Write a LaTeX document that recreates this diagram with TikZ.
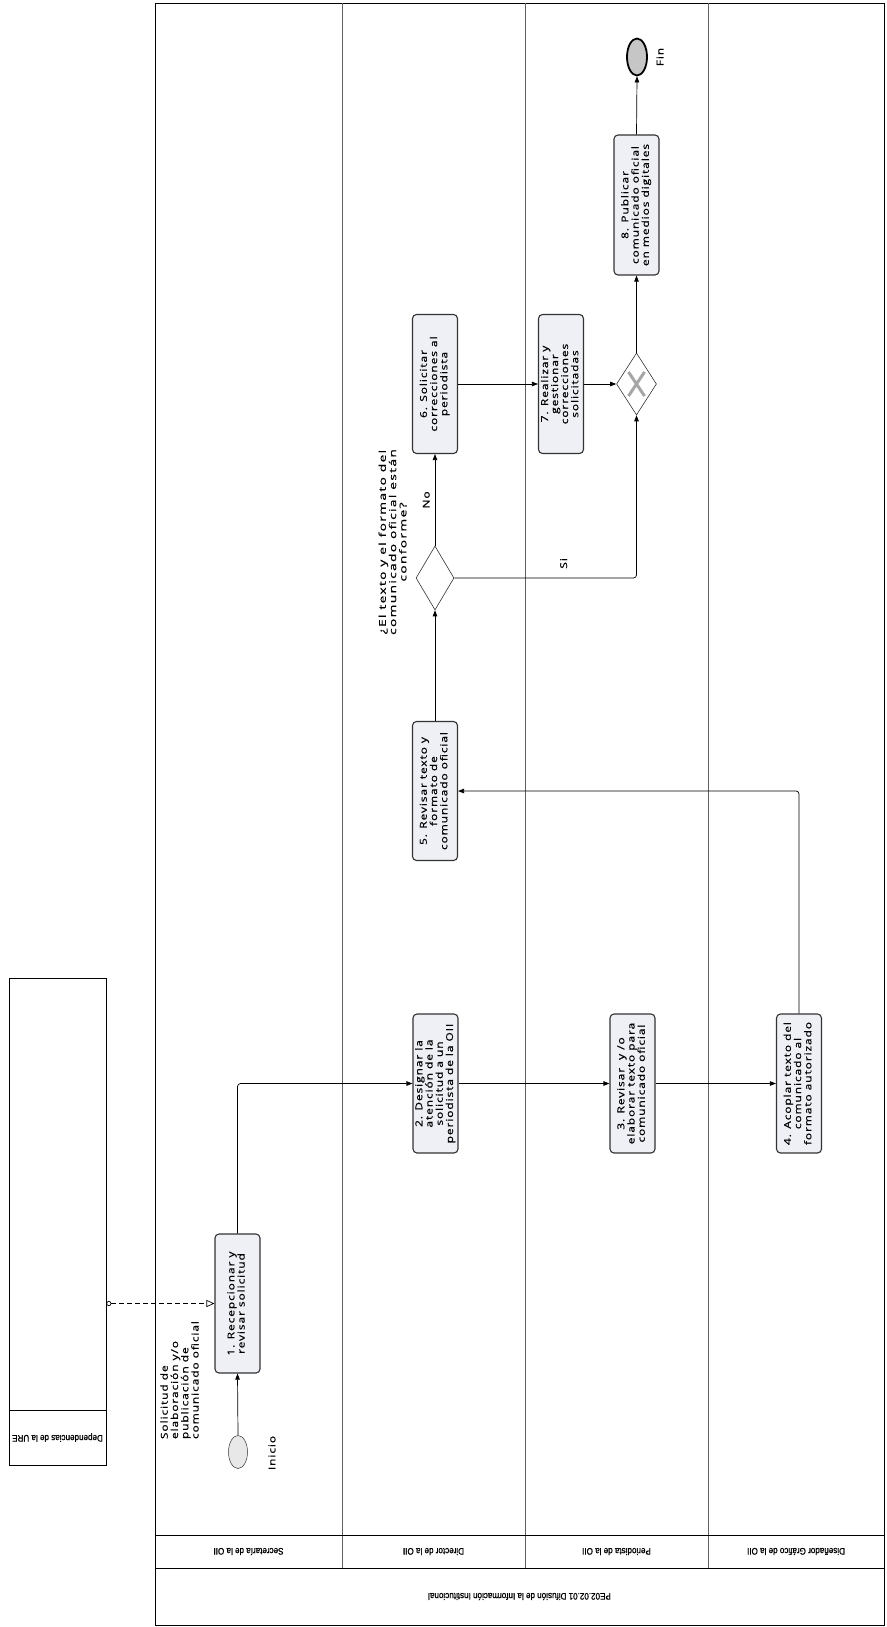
\documentclass[tikz,border=0pt]{standalone}
\usepackage{fontspec}
\setmainfont{Open Sans}
\newfontfamily\hdrfont[FakeStretch=0.85,FakeBold=1]{Liberation Sans}
\newfontfamily\taskfont[LetterSpace=10,FakeBold=0.6,FakeStretch=1.25]{Open Sans}
\newfontfamily\askfont[LetterSpace=14,FakeBold=0.6,FakeStretch=1.45]{Open Sans}
\usetikzlibrary{arrows.meta,positioning,shapes.geometric}
\definecolor{taskfill}{HTML}{EEF0F5}
\definecolor{laneline}{HTML}{606060}
\definecolor{taskline}{HTML}{333333}
\newcommand{\vtext}[1]{\rotatebox{90}{\begin{tabular}{@{}c@{}}#1\end{tabular}}}
\newcommand{\vltext}[1]{\rotatebox{90}{\begin{tabular}{@{}l@{}}#1\end{tabular}}}

\begin{document}
\begin{tikzpicture}[x=1pt,y=-1pt,
    task/.style={draw=taskline,line width=1.1pt,rounded corners=4pt,fill=taskfill,
        minimum width=45,minimum height=139,inner sep=0pt,
        font=\taskfont\fontsize{9.5}{10}\selectfont},
    gate/.style={diamond,draw=taskline,line width=0.6pt,fill=white,inner sep=0pt},
    flow/.style={-{Triangle[length=6pt,width=4.5pt]},line width=0.7pt,rounded corners=3pt},
    msg/.style={{Circle[open,length=5pt,width=5pt]}-{Triangle[open,length=8pt,width=7pt]},
        dash pattern=on 5pt off 3pt,line width=0.7pt},
    lanehdr/.style={font=\hdrfont\fontsize{9.5}{11}\selectfont,rotate=180},
    lbl/.style={font=\taskfont\fontsize{9.5}{10}\selectfont,inner sep=1pt}]
    \useasboundingbox (0,0) rectangle (886,1627);

    % pool PE02.02.01
    \draw[line width=0.7pt] (155,3) rectangle (884,1625);
    \foreach \x in {342,525,708}
    {
        \draw[laneline,line width=0.5pt] (\x,3)--(\x,1568);
    }
    \draw[line width=0.7pt] (155,1535)--(884,1535);
    \draw[line width=0.7pt] (155,1568)--(884,1568);
    \node[lanehdr] at (248.5,1551.5) {Secretaría de la OII};
    \node[lanehdr] at (433.5,1551.5) {Director de la OII};
    \node[lanehdr] at (616.5,1551.5) {Periodista de la OII};
    \node[lanehdr] at (796,1551.5) {Diseñador Gráfico de la OII};
    \node[lanehdr] at (519.5,1596.5) {PE02.02.01 Difusión de la Información Institucional};

    % pool dependencias
    \node (dep) [draw,line width=0.7pt,minimum width=97,minimum height=487,inner sep=0pt] at (57.5,1221.5) {};
    \draw[line width=0.7pt] (9,1410)--(106,1410);
    \node[lanehdr] at (57.5,1437.5) {Dependencias de la URE};

    % events
    \node (ini) [ellipse,draw=taskline,line width=0.5pt,fill=gray!18,minimum width=19,minimum height=33,inner sep=0pt] at (238,1452) {};
    \node[lbl] at (272,1453) {\rotatebox{90}{Inicio}};
    \node (fin) [ellipse,draw=black,line width=1.8pt,fill=gray!45,minimum width=20,minimum height=37,inner sep=0pt] at (637,57) {};
    \node[lbl] at (660,57) {\rotatebox{90}{Fin}};

    % tasks
    \node (t1) [task] at (237.5,1303.5) {\vtext{1. Recepcionar y\\revisar solicitud}};
    \node (t2) [task] at (435.5,1083.5) {\vtext{2. Designar la\\atención de la\\solicitud a un\\periodista de la OII}};
    \node (t3) [task] at (632.5,1083.5) {\vtext{3. Revisar~ y /o\\elaborar texto para\\comunicado oficial}};
    \node (t4) [task] at (799,1083.5) {\vtext{4. Acoplar texto del\\comunicado al\\formato autorizado}};
    \node (t5) [task] at (435,791) {\vtext{5. Revisar texto y\\formato de\\comunicado oficial}};
    \node (t6) [task] at (435,384) {\vtext{6. Solicitar\\correcciones al\\periodista}};
    \node (t7) [task] at (561,384) {\vtext{7. Realizar y\\gestionar\\correcciones\\solicitadas}};
    \node (t8) [task,minimum height=140] at (636.5,205) {\vtext{8. Publicar\\comunicado oficial\\en medios digitales}};

    % gateways
    \node (g1) [gate,minimum width=38,minimum height=64] at (435,578) {};
    \node (g2) [gate,minimum width=40,minimum height=62] at (636.5,384) {};
    \draw[gray!70,line width=3pt] (g2) ++(-8,-12) -- ++(16,24) (g2) ++(8,-12) -- ++(-16,24);
    \node[lbl,font=\askfont\fontsize{9.5}{10}\selectfont] at (394,542) {\vtext{¿El texto y el formato del\\comunicado oficial están\\conforme?}};
    \node[lbl] at (181,1380) {\vltext{Solicitud de\\elaboración y/o\\publicación de\\comunicado oficial}};

    % connectors
    \draw[msg] (dep.east |- t1.west) -- (t1.west);
    \draw[flow] (ini.north) -- (t1.south);
    \draw[flow] (t1.north) |- (t2.west);
    \draw[flow] (t2.east) -- (t3.west);
    \draw[flow] (t3.east) -- (t4.west);
    \draw[flow] (t4.north) |- (t5.east);
    \draw[flow] (t5.north) -- (g1.south);
    \draw[flow] (g1.north) -- node[lbl,left=4pt]{\rotatebox{90}{No}} (t6.south);
    \draw[flow] (g1.east) -| node[lbl,pos=0.3,above=8pt]{\rotatebox{90}{Si}} (g2.south);
    \draw[flow] (t6.east) -- (t7.west);
    \draw[flow] (t7.east) -- (g2.west);
    \draw[flow] (g2.north) -- (t8.south);
    \draw[flow] (t8.north) -- (fin.south);
\end{tikzpicture}
\end{document}
